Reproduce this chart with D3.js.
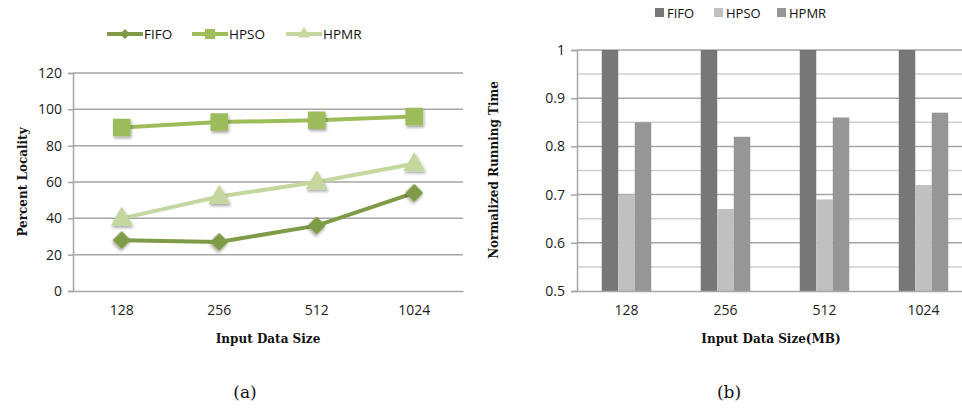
<!DOCTYPE html>
<html><head><meta charset="utf-8">
<script src="https://cdn.jsdelivr.net/npm/d3@7"></script>
<style>body{margin:0;background:#fff}svg{display:block}</style>
</head><body>
<svg id="c" width="962" height="412"></svg>
<script>
const categories = ["128","256","512","1024"];
const seriesNames = ["FIFO","HPSO","HPMR"];
const localityFIFO = [28, 27, 36, 54];
const localityHPSO = [90, 93, 94, 96];
const localityHPMR = [40, 52, 60, 70];
const localityTicks = [0,20,40,60,80,100,120];
const timeFIFO = [1, 1, 1, 1];
const timeHPSO = [0.70, 0.67, 0.69, 0.72];
const timeHPMR = [0.85, 0.82, 0.86, 0.87];
const timeTicks = [0.5,0.6,0.7,0.8,0.9,1];
const timeMinorTicks = [0.55,0.65,0.75,0.85,0.95];

const svg = d3.select("#c");
const tickFont = "'Open Sans', sans-serif";
const titleFont = "'DejaVu Serif', serif";

const defs = svg.append("defs");
const f = defs.append("filter").attr("id","sh").attr("x","-50%").attr("y","-50%").attr("width","200%").attr("height","200%");
f.append("feGaussianBlur").attr("in","SourceAlpha").attr("stdDeviation",1.5).attr("result","b");
f.append("feOffset").attr("in","b").attr("dx",1).attr("dy",2).attr("result","o");
f.append("feComponentTransfer").attr("in","o").attr("result","o2").append("feFuncA").attr("type","linear").attr("slope",0.35);
const fm = f.append("feMerge"); fm.append("feMergeNode").attr("in","o2"); fm.append("feMergeNode").attr("in","SourceGraphic");

// ---------- Chart (a) ----------
const lineColors = {FIFO:"#7f9b47", HPSO:"#9dbd5b", HPMR:"#c4d79e"};
const xA = d3.scaleBand().domain(categories).range([73,463]);
const yA = d3.scaleLinear().domain([0,120]).range([291,73]);
const gA = svg.append("g");
gA.append("g").selectAll("line").data(localityTicks.filter(d=>d>0)).join("line")
  .attr("x1",73).attr("x2",463).attr("y1",d=>yA(d)).attr("y2",d=>yA(d))
  .attr("stroke","#a6a6a6").attr("stroke-width",1.5);
const axA = gA.append("g").attr("transform","translate(73,0)")
  .call(d3.axisLeft(yA).tickValues(localityTicks).tickSize(5).tickPadding(6));
axA.select(".domain").attr("stroke","#a6a6a6").attr("stroke-width",1.5);
axA.selectAll(".tick line").attr("stroke","#a6a6a6").attr("stroke-width",1.5);
axA.selectAll("text").attr("font-family",tickFont).attr("font-size",14).attr("fill","#222");
const axAx = gA.append("g").attr("transform","translate(0,291)")
  .call(d3.axisBottom(xA).tickSize(0).tickPadding(14));
axAx.select(".domain").attr("stroke","#a6a6a6").attr("stroke-width",1.5);
axAx.selectAll("text").attr("font-family",tickFont).attr("font-size",14).attr("fill","#222");

const symbols = {FIFO:d3.symbolSquare, HPSO:d3.symbolSquare, HPMR:d3.symbolTriangle};
const symSize = {FIFO:130, HPSO:260, HPMR:170};
const symRot = {FIFO:45, HPSO:0, HPMR:0};
const locData = {FIFO:localityFIFO, HPSO:localityHPSO, HPMR:localityHPMR};
const cx = c => xA(c)+xA.bandwidth()/2;
["HPSO","HPMR","FIFO"].forEach(s=>{
  const vals = locData[s];
  const g = gA.append("g");
  g.append("path").datum(vals).attr("fill","none").attr("stroke",lineColors[s]).attr("stroke-width",4)
    .attr("d", d3.line().x((d,i)=>cx(categories[i])).y(d=>yA(d)));
  g.selectAll("path.m").data(vals).join("path").attr("class","m")
    .attr("transform",(d,i)=>`translate(${cx(categories[i])},${yA(d)+(s==="HPMR"?1:0)}) rotate(${symRot[s]})`)
    .attr("d", d3.symbol().type(symbols[s]).size(symSize[s]))
    .attr("fill",lineColors[s]).attr("stroke",lineColors[s]).attr("stroke-width",1.5)
    .attr("stroke-linejoin","round").attr("filter","url(#sh)");
});
// legend (a)
const legA = [{s:"FIFO",x:107},{s:"HPSO",x:192},{s:"HPMR",x:286}];
legA.forEach(o=>{
  const g = svg.append("g");
  g.append("line").attr("x1",o.x).attr("x2",o.x+36).attr("y1",34).attr("y2",34)
    .attr("stroke",lineColors[o.s]).attr("stroke-width",4);
  g.append("path").attr("transform",`translate(${o.x+18},34) rotate(${symRot[o.s]})`)
    .attr("d",d3.symbol().type(symbols[o.s]).size(symSize[o.s]*0.4)).attr("fill",lineColors[o.s]);
  g.append("text").attr("x",o.x+37).attr("y",39).text(o.s)
    .attr("font-family",tickFont).attr("font-size",13.5).attr("fill","#111");
});
svg.append("text").attr("transform","translate(27,182) rotate(-90)").attr("text-anchor","middle")
  .attr("font-family",titleFont).attr("font-weight","bold").attr("font-size",12).attr("fill","#111")
  .text("Percent  Locality");
svg.append("text").attr("x",268).attr("y",343).attr("text-anchor","middle")
  .attr("font-family",titleFont).attr("font-weight","bold").attr("font-size",12).attr("fill","#111")
  .text("Input Data  Size");

// ---------- Chart (b) ----------
const barColors = {FIFO:"#777777", HPSO:"#c0c0c0", HPMR:"#969696"};
const xB = d3.scaleBand().domain(categories).range([577,973]);
const xInner = d3.scaleBand().domain(seriesNames).range([0,xB.bandwidth()]).paddingOuter(1.5).paddingInner(0);
const yB = d3.scaleLinear().domain([0.5,1]).range([291,50]);
const gB = svg.append("g");
gB.append("g").selectAll("line").data(timeMinorTicks).join("line")
  .attr("x1",577).attr("x2",962).attr("y1",d=>yB(d)).attr("y2",d=>yB(d))
  .attr("stroke","#cfcfcf").attr("stroke-width",1.5);
gB.append("g").selectAll("line").data(timeTicks.filter(d=>d>0.5)).join("line")
  .attr("x1",577).attr("x2",962).attr("y1",d=>yB(d)).attr("y2",d=>yB(d))
  .attr("stroke","#a6a6a6").attr("stroke-width",1.5);
const timeData = {FIFO:timeFIFO, HPSO:timeHPSO, HPMR:timeHPMR};
const rows = categories.map((c,i)=>({c, vals: seriesNames.map(s=>({s, v: timeData[s][i]}))}));
gB.append("g").selectAll("g").data(rows).join("g")
  .attr("transform",d=>`translate(${xB(d.c)},0)`)
  .selectAll("rect").data(d=>d.vals).join("rect")
  .attr("x",d=>xInner(d.s)).attr("width",xInner.bandwidth())
  .attr("y",d=>yB(d.v)).attr("height",d=>yB(0.5)-yB(d.v))
  .attr("fill",d=>barColors[d.s]);
const axB = gB.append("g").attr("transform","translate(577,0)")
  .call(d3.axisLeft(yB).tickValues(timeTicks).tickSize(6).tickPadding(6).tickFormat(d3.format("")));
axB.select(".domain").attr("stroke","#a6a6a6").attr("stroke-width",1.5);
axB.selectAll(".tick line").attr("stroke","#a6a6a6").attr("stroke-width",1.5);
axB.selectAll("text").attr("font-family",tickFont).attr("font-size",14).attr("fill","#222");
const axBx = gB.append("g").attr("transform","translate(0,291)")
  .call(d3.axisBottom(xB).tickSize(0).tickPadding(14));
axBx.select(".domain").attr("stroke","#a6a6a6").attr("stroke-width",1.5);
axBx.selectAll("text").attr("font-family",tickFont).attr("font-size",14).attr("fill","#222");
// legend (b)
const legB = [{s:"FIFO",x:655},{s:"HPSO",x:714},{s:"HPMR",x:777}];
legB.forEach(o=>{
  svg.append("rect").attr("x",o.x).attr("y",8).attr("width",9).attr("height",9).attr("fill",barColors[o.s]);
  svg.append("text").attr("x",o.x+12).attr("y",18).text(o.s)
    .attr("font-family",tickFont).attr("font-size",13).attr("fill","#111");
});
svg.append("text").attr("transform","translate(498,170) rotate(-90)").attr("text-anchor","middle")
  .attr("font-family",titleFont).attr("font-weight","bold").attr("font-size",12).attr("fill","#111")
  .text("Normalized Running Time");
svg.append("text").attr("x",771).attr("y",343).attr("text-anchor","middle")
  .attr("font-family",titleFont).attr("font-weight","bold").attr("font-size",12).attr("fill","#111")
  .text("Input Data Size(MB)");

// captions
svg.append("text").attr("x",245).attr("y",398).attr("text-anchor","middle")
  .attr("font-family","'DejaVu Serif', serif").attr("font-size",17).attr("fill","#111").text("(a)");
svg.append("text").attr("x",729).attr("y",398).attr("text-anchor","middle")
  .attr("font-family","'DejaVu Serif', serif").attr("font-size",17).attr("fill","#111").text("(b)");
</script>
</body></html>
